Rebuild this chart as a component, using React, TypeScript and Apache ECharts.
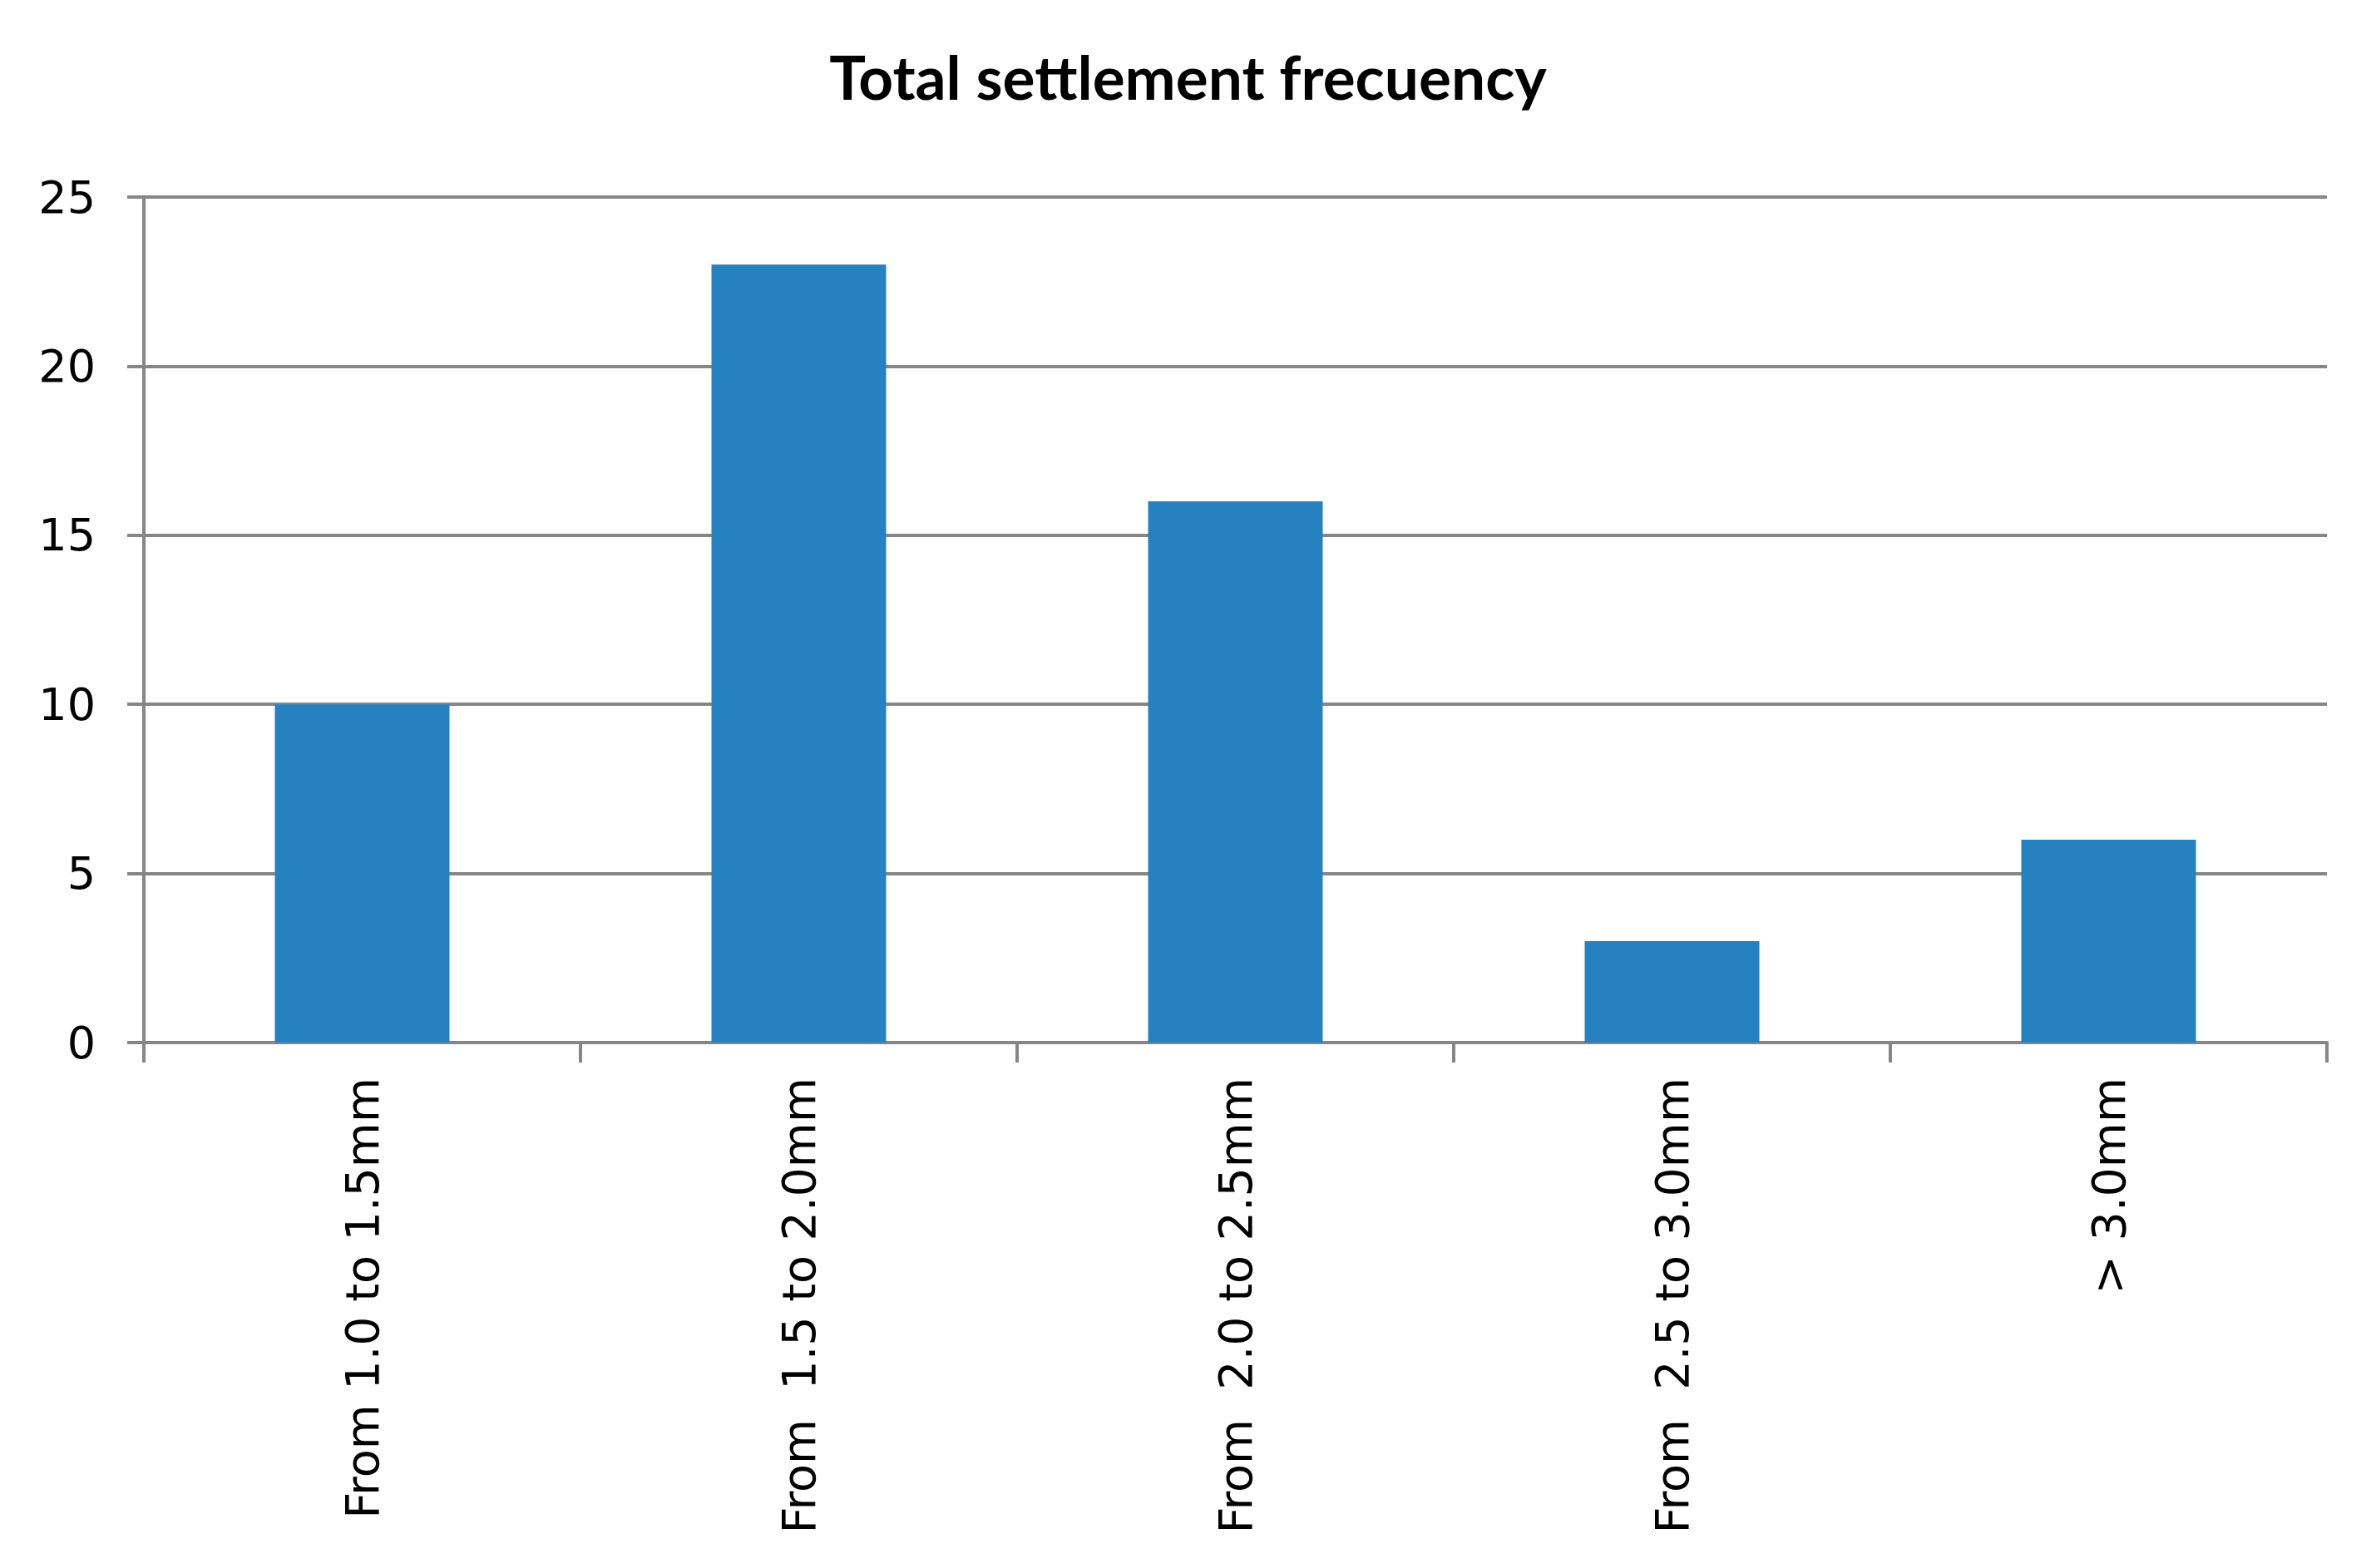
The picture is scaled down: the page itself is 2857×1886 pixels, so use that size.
import React, { useEffect, useRef } from "react";
import * as echarts from "echarts";

const titleText = "Total settlement frecuency";
const categories = [
  "From 1.0 to 1.5mm",
  "From  1.5 to 2.0mm",
  "From  2.0 to 2.5mm",
  "From  2.5 to 3.0mm",
  "> 3.0mm",
];
const values = [10, 23, 16, 3, 6];
const yMin = 0;
const yMax = 25;
const yInterval = 5;

export default function App() {
  const ref = useRef<HTMLDivElement>(null);
  useEffect(() => {
    if (!ref.current) return;
    const chart = echarts.init(ref.current, null, { renderer: "svg" });
    const grey = "#868686";
    chart.setOption({
      animation: false,
      backgroundColor: "#ffffff",
      title: {
        text: titleText,
        left: "center",
        top: 50,
        textStyle: {
          fontFamily: "Lato",
          fontWeight: "bold",
          fontSize: 73,
          color: "#000000",
        },
      },
      grid: { left: 173, right: 59, top: 237, bottom: 632, containLabel: false },
      xAxis: {
        type: "category",
        data: categories,
        boundaryGap: true,
        axisLine: { show: true, lineStyle: { color: grey, width: 4 } },
        axisTick: { show: true, length: 24, lineStyle: { color: grey, width: 4 } },
        axisLabel: {
          rotate: 90,
          margin: 42,
          fontFamily: "DejaVu Sans",
          fontSize: 55.5,
          color: "#000000",
        },
        splitLine: { show: false },
      },
      yAxis: {
        type: "value",
        min: yMin,
        max: yMax,
        interval: yInterval,
        axisLine: { show: true, lineStyle: { color: grey, width: 4 } },
        axisTick: { show: true, length: 20, lineStyle: { color: grey, width: 4 } },
        axisLabel: {
          margin: 58,
          fontFamily: "DejaVu Sans",
          fontSize: 54,
          color: "#000000",
        },
        splitLine: { show: true, lineStyle: { color: grey, width: 4 } },
      },
      series: [
        {
          type: "bar",
          data: values,
          barWidth: "40%",
          itemStyle: { color: "#2581C0" },
        },
      ],
    });
    return () => chart.dispose();
  }, []);
  return (
    <div
      ref={ref}
      style={{ position: "fixed", left: 0, top: 0, width: 2857, height: 1886 }}
    />
  );
}
